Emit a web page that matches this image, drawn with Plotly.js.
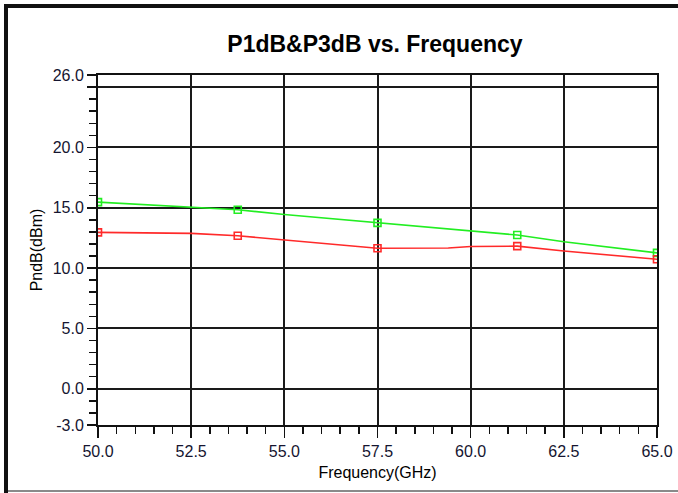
<!DOCTYPE html>
<html>
<head>
<meta charset="utf-8">
<script src="https://cdn.plot.ly/plotly-3.0.1.min.js"></script>
<style>
  html, body { margin: 0; padding: 0; background: #fff; }
  #wrap { position: relative; width: 678px; height: 493px; overflow: hidden; }
  #chart { position: absolute; left: 0; top: 0; width: 678px; height: 493px; }
  #frameTop { position: absolute; left: 4px; top: 4px; width: 700px; height: 4px; background: #111; z-index: 5; }
  #frameLeft { position: absolute; left: 4px; top: 4px; width: 4px; height: 500px; background: #111; z-index: 5; }
  #frameBottom { position: absolute; left: 8px; top: 490px; width: 700px; height: 2px; background: #8a8a8a; z-index: 5; }
</style>
</head>
<body>
<div id="wrap">
  <div id="chart"></div>
  <div id="frameTop"></div>
  <div id="frameLeft"></div>
  <div id="frameBottom"></div>
</div>
<script>
// Frequency points (GHz)
const freq = [50, 52.5, 53.75, 55, 57.5, 59.4, 60, 61.25, 62.5, 65];
// P3dB (green, upper curve), dBm
const p3dB = [15.47, 15.05, 14.84, 14.44, 13.75, 13.25, 13.1, 12.74, 12.18, 11.26];
// P1dB (red, lower curve), dBm
const p1dB = [12.96, 12.88, 12.68, 12.35, 11.65, 11.66, 11.79, 11.82, 11.42, 10.73];
// Frequencies where the curve markers are drawn
const markerFreq = [50, 53.75, 57.5, 61.25, 65];

const xTicks = [50, 52.5, 55, 57.5, 60, 62.5, 65];
const yTicks = [26, 25, 20, 15, 10, 5, 0, -3];
const yTickText = ["26.0", "", "20.0", "15.0", "10.0", "5.0", "0.0", "-3.0"];

function pick(xs, ys, sel) {
  const ox = [], oy = [];
  xs.forEach((x, i) => { if (sel.indexOf(x) >= 0) { ox.push(x); oy.push(ys[i]); } });
  return { x: ox, y: oy };
}

const green = '#22ee22';
const red = '#ff2a2a';
const gm = pick(freq, p3dB, markerFreq);
const rm = pick(freq, p1dB, markerFreq);

const traces = [
  { x: freq, y: p3dB, mode: 'lines', line: { color: green, width: 1.6 }, hoverinfo: 'skip' },
  { x: gm.x, y: gm.y, mode: 'markers', marker: { symbol: 'square-open', size: 7, color: green, line: { width: 1.6, color: green } } },
  { x: freq, y: p1dB, mode: 'lines', line: { color: red, width: 1.6 }, hoverinfo: 'skip' },
  { x: rm.x, y: rm.y, mode: 'markers', marker: { symbol: 'square-open', size: 7, color: red, line: { width: 1.6, color: red } } }
];

const tickFont = { family: 'Liberation Sans, Arial, sans-serif', size: 16, color: '#151530' };

const layout = {
  width: 678, height: 493,
  margin: { l: 98, r: 21, t: 75, b: 68 },
  paper_bgcolor: '#fff', plot_bgcolor: '#fff',
  showlegend: false,
  title: {
    text: '<b>P1dB&amp;P3dB vs. Frequency</b>',
    font: { family: 'Liberation Sans, Arial, sans-serif', size: 23, color: '#000' },
    x: 0.553, xanchor: 'center', y: 0.911, yanchor: 'middle'
  },
  xaxis: {
    range: [50, 65], tickmode: 'array', tickvals: xTicks,
    ticktext: xTicks.map(v => v.toFixed(1)),
    showgrid: true, gridcolor: '#1a1a1a', gridwidth: 2,
    zeroline: false, showline: true, linecolor: '#111', linewidth: 2, mirror: true,
    ticks: 'outside', ticklen: 11, tickwidth: 1.5, tickcolor: '#111',
    minor: { tickmode: 'linear', tick0: 50, dtick: 0.5, ticks: 'outside', ticklen: 7, tickwidth: 1.5, tickcolor: '#111', showgrid: false },
    tickfont: tickFont,
    title: { text: 'Frequency(GHz)', font: { family: 'Liberation Sans, Arial, sans-serif', size: 16, color: '#000' }, standoff: 8 },
    automargin: false
  },
  yaxis: {
    range: [-3, 26], tickmode: 'array', tickvals: yTicks, ticktext: yTickText,
    showgrid: true, gridcolor: '#1a1a1a', gridwidth: 2,
    zeroline: false, showline: true, linecolor: '#111', linewidth: 2, mirror: true,
    ticks: 'outside', ticklen: 9, tickwidth: 1.5, tickcolor: '#111',
    minor: { tickmode: 'linear', tick0: 0, dtick: 1, ticks: 'outside', ticklen: 7, tickwidth: 1.5, tickcolor: '#111', showgrid: false },
    tickfont: tickFont,
    title: { text: 'PndB(dBm)', font: { family: 'Liberation Sans, Arial, sans-serif', size: 16, color: '#000' }, standoff: 6 },
    automargin: false
  }
};

Plotly.newPlot('chart', traces, layout, { displayModeBar: false, staticPlot: true });
</script>
</body>
</html>
